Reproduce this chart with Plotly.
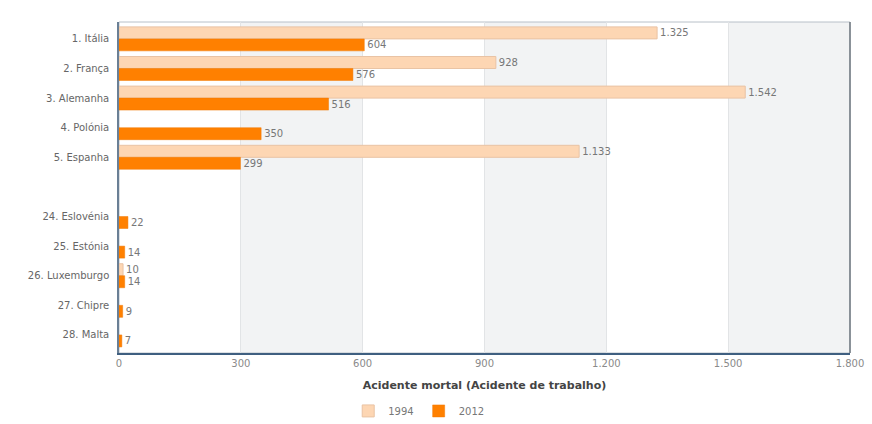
import plotly.graph_objects as go

countries = ["1. Itália", "2. França", "3. Alemanha", "4. Polónia", "5. Espanha",
             "24. Eslovénia", "25. Estónia", "26. Luxemburgo", "27. Chipre", "28. Malta"]
v1994 = [1325, 928, 1542, None, 1133, None, None, 10, None, None]
v2012 = [604, 576, 516, 350, 299, 22, 14, 14, 9, 7]
x_ticks = [0, 300, 600, 900, 1200, 1500, 1800]

# positions: gap of one slot between the top 5 and the bottom 5
ypos = [i if i < 5 else i + 1 for i in range(len(countries))]

fig = go.Figure()
fig.add_trace(go.Bar(
    name="1994", y=ypos, x=v1994, orientation="h",
    marker=dict(color="#FDD6B3", line=dict(color="#E9C3A4", width=1)),
    text=[f"{v:,}".replace(",", ".") if v is not None else "" for v in v1994],
    textposition="outside", cliponaxis=False,
    textfont=dict(family="DejaVu Sans", size=10, color="#777777"),
))
fig.add_trace(go.Bar(
    name="2012", y=ypos, x=v2012, orientation="h",
    marker=dict(color="#FF8000", line=dict(color="#F07800", width=0.5)),
    text=[f"{v:,}".replace(",", ".") for v in v2012],
    textposition="outside", cliponaxis=False,
    textfont=dict(family="DejaVu Sans", size=10, color="#777777"),
))

shapes = []
for i in range(1, len(x_ticks) - 1, 2):
    shapes.append(dict(type="rect", xref="x", yref="paper", x0=x_ticks[i], x1=x_ticks[i + 1],
                       y0=0, y1=1, fillcolor="#F2F3F4", line=dict(width=0), layer="below"))
shapes.append(dict(type="rect", xref="paper", yref="paper", x0=0, x1=1, y0=0, y1=1,
                   line=dict(color="#B8C0C8", width=1), layer="below"))
shapes.append(dict(type="line", xref="paper", yref="paper", x0=1, x1=1, y0=0, y1=1,
                   line=dict(color="#707880", width=1.5)))

fig.update_layout(
    width=872, height=424,
    margin=dict(l=119, r=22, t=22, b=71, autoexpand=False),
    paper_bgcolor="white", plot_bgcolor="white",
    barmode="group", bargap=0.19, bargroupgap=0,
    separators=",.",
    shapes=shapes,
    font=dict(family="DejaVu Sans", size=10, color="#666666"),
    xaxis=dict(
        range=[0, 1800], tickvals=x_ticks, tickformat=",",
        showgrid=True, gridcolor="#E2E4E6", gridwidth=1,
        showline=True, linecolor="#3F5F80", linewidth=1.5,
        ticks="", zeroline=False, automargin=False,
        tickfont=dict(family="DejaVu Sans", size=10, color="#8A8A8A"),
        title=dict(text="<b>Acidente mortal (Acidente de trabalho)</b>",
                   font=dict(family="DejaVu Sans", size=11, color="#444444"), standoff=14),
    ),
    yaxis=dict(
        range=[10.61, -0.57], tickvals=ypos, ticktext=countries,
        showgrid=False, zeroline=False, automargin=False,
        showline=True, linecolor="#6A7F95", linewidth=1.5,
        ticks="", ticklabelstandoff=6,
        tickfont=dict(family="DejaVu Sans", size=10, color="#666666"),
    ),
    legend=dict(orientation="h", x=0.41, xanchor="center", y=-0.175, yanchor="middle",
                font=dict(family="DejaVu Sans", size=10, color="#777777"),
                traceorder="normal"),
    showlegend=True,
)

fig.write_html("out.html")
